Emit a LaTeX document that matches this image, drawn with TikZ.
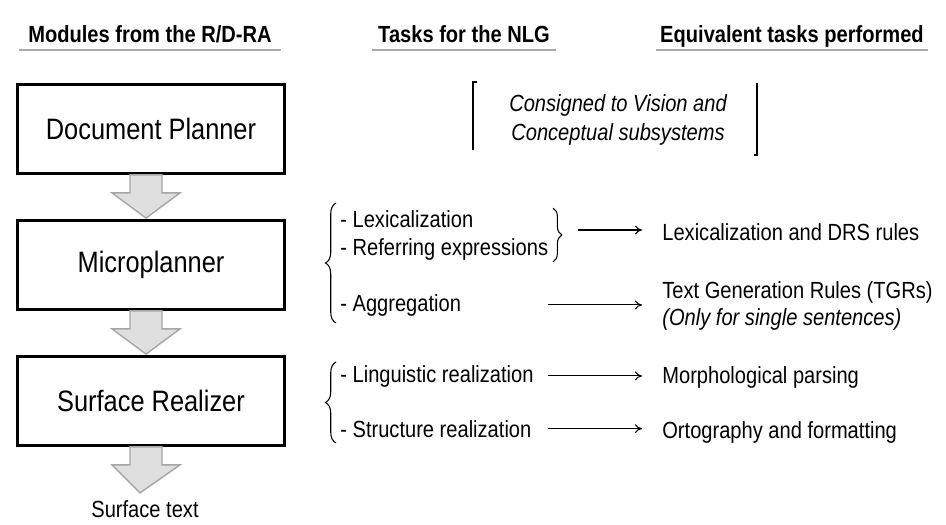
\documentclass[tikz,border=0pt]{standalone}
\usepackage{fontspec}
\setmainfont[FakeStretch=0.86]{Liberation Sans}
\usetikzlibrary{positioning, calc, arrows.meta, decorations.pathreplacing}

% block arrow from one stage to the next (start anchor, tip anchor)
\newcommand{\stagearrow}[2]{%
  \draw[flow] ($(#1)+(-21,0)$) -- ++(0,18) -- ++(-18,0) -- ($(#2)+(-5,-1)$)
    -- ($(#1)+(29,18)$) -- ++(-18,0) -- ($(#1)+(11,0)$) -- cycle;}

\begin{document}
\begin{tikzpicture}[
      x = 0.02cm, y = -0.02cm,
      header/.style = {anchor = base, font = \fontsize{13.3}{15}\selectfont\bfseries},
      headrule/.style = {draw = gray!65, line width = 1.2pt},
      module/.style = {draw, line width = 1.6pt, minimum width = 5.34cm, minimum height = 1.78cm,
                       font = \fontsize{16.8}{19}\selectfont},
      flow/.style = {draw = gray!70, fill = gray!25, line width = 0.8pt},
      task/.style = {anchor = base west, inner sep = 0pt, font = \fontsize{13.3}{16}\selectfont},
      group/.style = {decorate, decoration = {brace, amplitude = 6pt}, line width = 0.6pt},
      taskarrow/.style = {-{To[length = 4pt, width = 5pt]}, line width = 0.6pt}
    ]
    \useasboundingbox (0,0) rectangle (946,524);

    % column headers
    \node[header] (hmod) at (150,42) {Modules from the R/D-RA};
    \node[header] (htask) at (464,42) {Tasks for the NLG};
    \node[header] (hequiv) at (792,42) {Equivalent tasks performed};
    \draw[headrule] ($(hmod.base)+(-131,8)$) -- ($(hmod.base)+(131,8)$);
    \draw[headrule] ($(htask.base)+(-92,8)$) -- ($(htask.base)+(92,8)$);
    \draw[headrule] ($(hequiv.base)+(-136,8)$) -- ($(hequiv.base)+(136,8)$);

    % modules
    \node[module] (doc) at (151,129) {Document Planner};
    \node[module] (micro) at (151,265) {Microplanner};
    \node[module] (surf) at (151,401) {Surface Realizer};
    \node[anchor = base, font = \fontsize{13.3}{15}\selectfont] (out) at (145,517) {Surface text};
    \stagearrow{doc.south}{micro.north}
    \stagearrow{micro.south}{surf.north}
    \stagearrow{surf.south}{out.north}

    % document planner
    \node[align = center, font = \fontsize{13.3}{16}\selectfont\itshape]
      (consigned) at (618,120) {Consigned to Vision and\\Conceptual subsystems};
    \draw[line width = 0.6pt] (477,82) -- (473,82) -- (473,150);
    \draw[line width = 0.6pt] (757,83) -- (757,155) -- (754,155);

    % microplanner
    \node[task] (lex) at (340,227) {- Lexicalization};
    \node[task] (refexp) at (340,255) {- Referring expressions};
    \node[task] (aggr) at (340,311) {- Aggregation};
    \node[task] (lexdrs) at (662,240) {Lexicalization and DRS rules};
    \node[task] (tgr) at (662,298) {Text Generation Rules (TGRs)};
    \node[task] (tgronly) at (662,325) {\itshape (Only for single sentences)};
    \draw[group] (336,323) -- (336,203);
    \draw[group, decoration = {amplitude = 5pt}] (553,208) -- (553,262);

    % surface realizer
    \node[task] (ling) at (340,382) {- Linguistic realization};
    \node[task] (struct) at (340,437) {- Structure realization};
    \node[task] (morph) at (662,383) {Morphological parsing};
    \node[task] (orto) at (662,438) {Ortography and formatting};
    \draw[group] (336,443) -- (336,362);

    % task arrows
    \coordinate (braceout) at (578,230);
    \coordinate (tail) at (548,0);
    \coordinate (head) at (642,0);
    \draw[taskarrow] (braceout) -- (head |- braceout);
    \draw[taskarrow] (tail |- aggr) -- (head |- aggr);
    \draw[taskarrow] (tail |- ling) -- (head |- ling);
    \draw[taskarrow] (tail |- struct) -- (head |- struct);
\end{tikzpicture}
\end{document}
